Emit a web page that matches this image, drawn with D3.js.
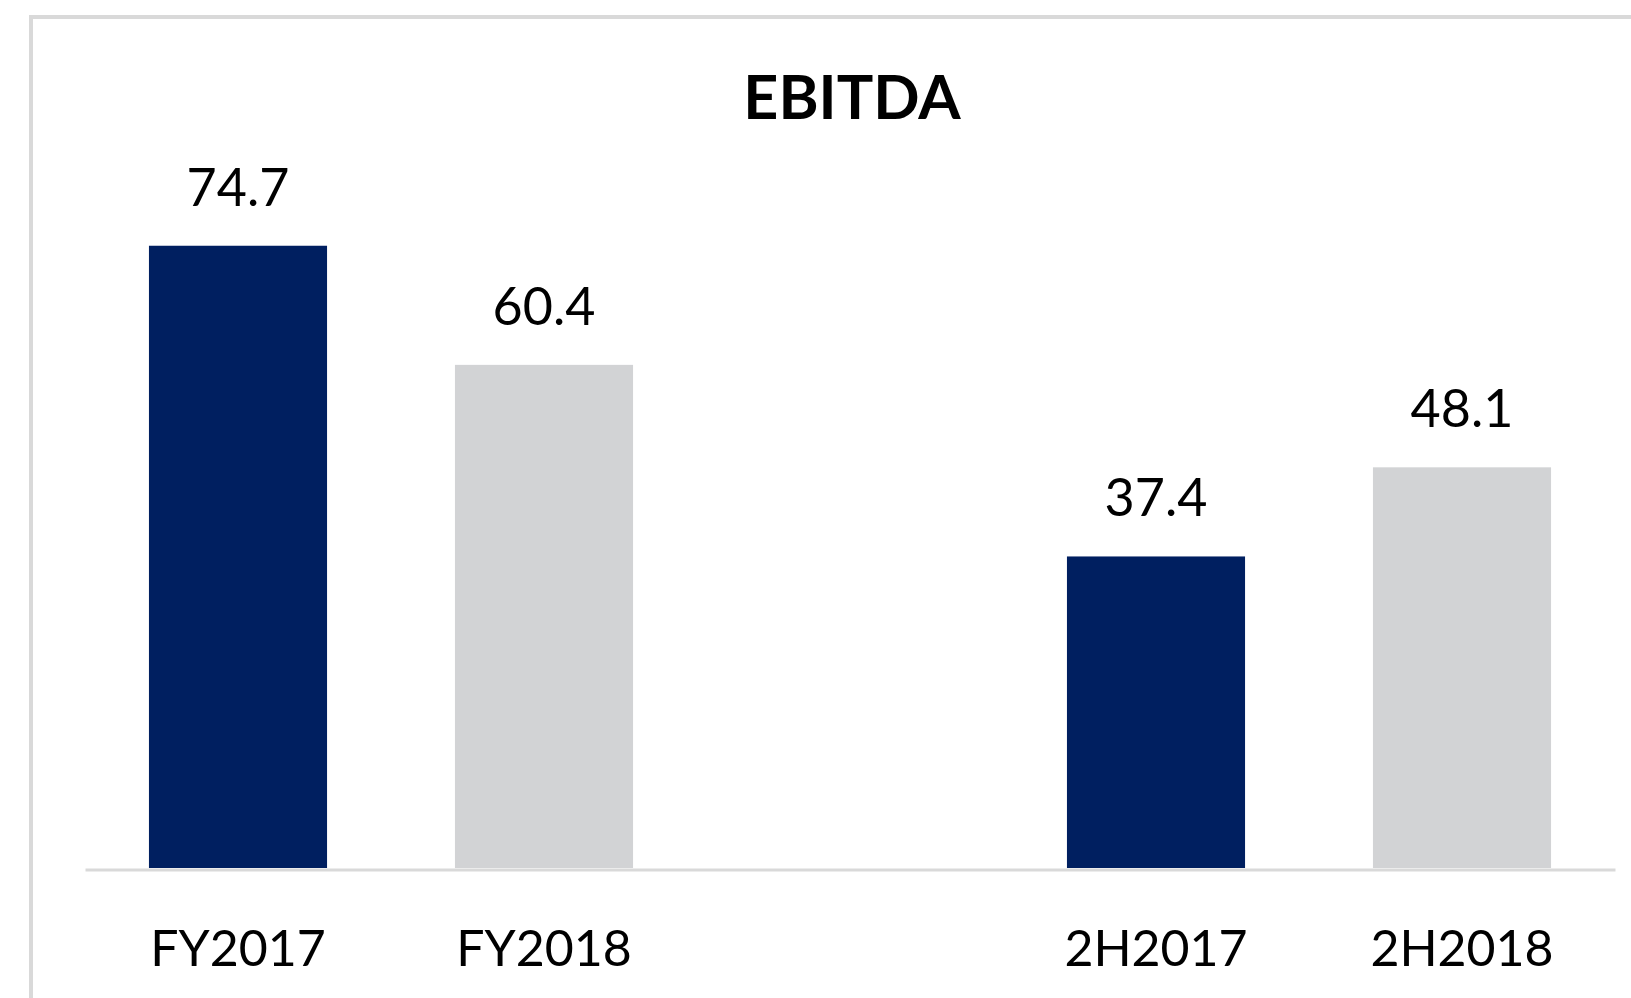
<!DOCTYPE html>
<html>
<head>
<meta charset="utf-8">
<script src="https://cdn.jsdelivr.net/npm/d3@7/dist/d3.min.js"></script>
<style>
  html, body { margin: 0; padding: 0; background: #fff; }
  svg { display: block; }
</style>
</head>
<body>
<svg id="chart" width="1631" height="998"></svg>
<script>
const categories = ["FY2017", "FY2018", "", "2H2017", "2H2018"];
const values = [74.7, 60.4, null, 37.4, 48.1];
const valueLabels = ["74.7", "60.4", "", "37.4", "48.1"];
const barColors = ["#001f60", "#d2d3d5", "none", "#001f60", "#d2d3d5"];
const chartTitle = "EBITDA";

const svg = d3.select("#chart");
const width = 1631, height = 998;
const font = "Lato, 'Open Sans', sans-serif";

// outer frame, cut off on right and bottom
svg.append("rect")
    .attr("x", 31).attr("y", 17)
    .attr("width", width).attr("height", height)
    .attr("fill", "none")
    .attr("stroke", "#d9d9d9")
    .attr("stroke-width", 4);

const x = d3.scaleBand()
    .domain(d3.range(categories.length))
    .range([85, 1615])
    .paddingInner(0.418)
    .paddingOuter(0.209);

const y = d3.scaleLinear()
    .domain([0, 80])
    .range([868, 868 - 80 * 8.33]);

const data = categories.map((c, i) => ({ c, v: values[i], label: valueLabels[i], color: barColors[i], i }))
    .filter(d => d.v !== null);

svg.append("g").selectAll("rect")
    .data(data)
    .join("rect")
    .attr("x", d => x(d.i))
    .attr("y", d => y(d.v))
    .attr("width", x.bandwidth())
    .attr("height", d => y(0) - y(d.v))
    .attr("fill", d => d.color);

// baseline
const xAxis = d3.axisBottom(x).tickSize(0).tickFormat(i => categories[i]);
const axisG = svg.append("g")
    .attr("transform", `translate(0,${y(0) + 1.5})`)
    .call(xAxis);
axisG.select(".domain").attr("stroke", "#d9d9d9").attr("stroke-width", 3);
axisG.selectAll(".tick text")
    .attr("y", 96)
    .attr("dy", 0)
    .attr("font-family", font)
    .attr("font-size", 50)
    .attr("fill", "#000");

svg.append("g").selectAll("text")
    .data(data)
    .join("text")
    .attr("x", d => x(d.i) + x.bandwidth() / 2)
    .attr("y", d => y(d.v) - 40)
    .attr("text-anchor", "middle")
    .attr("font-family", font)
    .attr("font-size", 52)
    .attr("fill", "#000")
    .text(d => d.label);

svg.append("text")
    .attr("x", 852)
    .attr("y", 119)
    .attr("text-anchor", "middle")
    .attr("font-family", font)
    .attr("font-weight", "bold")
    .attr("font-size", 61)
    .attr("fill", "#000")
    .text(chartTitle);
</script>
</body>
</html>
